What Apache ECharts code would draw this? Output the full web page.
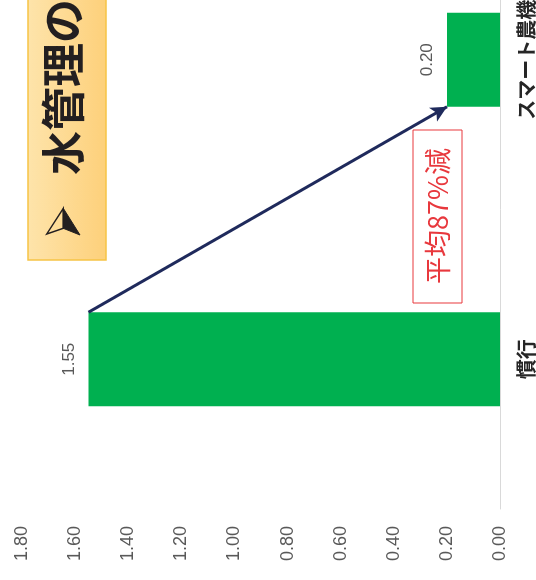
<!DOCTYPE html>
<html><head><meta charset="utf-8">
<script src="https://cdn.jsdelivr.net/npm/echarts@6/dist/echarts.min.js"></script>
<style>
html,body{margin:0;padding:0;width:536px;height:580px;overflow:hidden;background:#fff}
#chart{position:absolute;left:0;top:0;width:700px;height:536px;transform-origin:0 0;transform:translate(0px,580px) rotate(-90deg);}
</style></head>
<body><div id="chart"></div>
<script>
const categories = ['慣行', 'スマート農機'];
const values = [1.55, 0.20];
const axisMax = 1.8;
const axisStep = 0.2;
const titleText = '水管理の';
const noteText = '平均87%減';

const BAR_W = 94;
const chart = echarts.init(document.getElementById('chart'), null, {renderer: 'canvas', width: 700, height: 536});
const option = {
  animation: false,
  backgroundColor: '#ffffff',
  grid: {left: 71, right: 30, top: 22, bottom: 36, containLabel: false, outerBoundsMode: 'none'},
  xAxis: {
    type: 'category', data: categories,
    axisLine: {lineStyle: {color: '#d9d9d9', width: 1}},
    axisTick: {show: false},
    axisLabel: {color: '#262626', fontSize: 20, fontWeight: 'bold', margin: 16, fontFamily: 'Noto Sans CJK JP'}
  },
  yAxis: {
    type: 'value', min: 0, max: axisMax, interval: axisStep,
    axisLine: {show: false}, axisTick: {show: false}, splitLine: {show: false},
    axisLabel: {color: '#595959', fontSize: 18, margin: 17, fontFamily: 'Liberation Sans', formatter: v => v.toFixed(2)}
  },
  series: [{
    type: 'bar', data: values, barWidth: BAR_W,
    itemStyle: {color: '#00b050'},
    label: {show: true, position: 'top', distance: 11, color: '#595959', fontSize: 17, fontFamily: 'Liberation Sans', formatter: p => p.value.toFixed(2)}
  }],
  graphic: [
    {type: 'rect', shape: {x: 320, y: 28, width: 420, height: 78},
     style: {fill: {type: 'linear', x: 0, y: 0, x2: 0, y2: 1, colorStops: [{offset: 0, color: '#fee4ab'}, {offset: 1, color: '#fdd07a'}]}, stroke: '#f6c445', lineWidth: 1.5}},
    {type: 'polygon', shape: {points: [[371.7, 63.3], [346, 46.7], [351.7, 63.3]]},
     style: {fill: 'none', stroke: '#231f20', lineWidth: 1.5, lineJoin: 'miter'}},
    {type: 'polygon', shape: {points: [[371.7, 63.3], [351.7, 63.3], [345, 80]]},
     style: {fill: '#231f20', stroke: '#231f20', lineWidth: 1}},
    {type: 'text', x: 405, y: 63, style: {text: titleText, font: 'bold 44px "Noto Sans CJK JP"', fill: '#231f20', align: 'left', verticalAlign: 'middle'}},
    {type: 'rect', shape: {x: 277, y: 413, width: 173, height: 49},
     style: {fill: '#ffffff', stroke: '#e8383d', lineWidth: 1}},
    {type: 'text', x: 364, y: 438, style: {text: noteText, font: '27px "Noto Sans CJK JP"', fill: '#e8383d', align: 'center', verticalAlign: 'middle'}}
  ]
};
chart.setOption(option);
const p0 = chart.convertToPixel({seriesIndex: 0}, [0, values[0]]);
const p1 = chart.convertToPixel({seriesIndex: 0}, [1, values[1]]);
chart.setOption({series: [{
  markLine: {
    silent: true, symbol: ['none', 'arrow'], symbolSize: [12, 16],
    lineStyle: {color: '#1f2a5c', width: 3, type: 'solid'},
    label: {show: false},
    data: [[{x: p0[0] + BAR_W / 2, y: p0[1]}, {x: p1[0] - BAR_W / 2, y: p1[1]}]]
  }
}]});
</script>
</body></html>
